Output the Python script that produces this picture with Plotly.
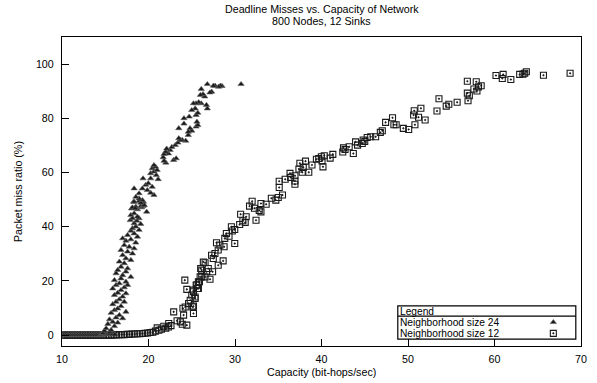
import plotly.graph_objects as go

# ---------------- data ----------------
# Neighborhood size 24 (triangles)
cap24 = [10.0, 10.2, 10.4, 10.6, 10.8, 11.0, 11.2, 11.4, 11.6, 11.8, 12.0, 12.2, 12.4,
         12.6, 12.8, 13.0, 13.2, 13.4, 13.6, 13.8, 14.0, 14.2, 14.4, 14.5, 14.6, 14.8,
         15.0, 15.2, 15.5, 15.8, 16.1,
         14.72, 15.49, 14.91, 15.68, 15.1, 16.06, 15.3, 16.44, 15.87, 15.49, 17.01, 16.25,
         16.63, 15.68, 17.39, 16.06, 16.44, 16.82, 15.87, 17.2, 16.25, 16.63, 17.01, 16.06,
         17.39, 16.44, 16.82, 15.87, 17.2, 17.58, 16.25, 16.63, 17.39, 16.06, 16.82, 17.96,
         17.01, 16.25, 17.39, 16.44, 17.58, 16.82, 17.2, 16.63, 17.96, 17.39, 17.01, 18.15,
         17.58, 16.82, 18.34, 17.77, 17.2, 18.53, 17.39, 17.96, 17.01, 18.72, 17.58, 18.34,
         18.91, 17.96, 18.15, 18.53, 19.1, 18.34, 18.65, 17.89, 18.91, 18.15, 18.72, 17.96,
         18.34, 19.79, 18.72, 18.04, 18.53, 19.1, 19.49, 19.41, 18.91, 18.27,
         18.15, 18.46, 19.22, 19.37, 19.49, 19.1, 18.34, 19.29, 18.91, 18.54, 18.91, 20.63,
         20.25, 19.86, 18.34, 19.29, 20.43, 19.68, 19.98, 21.12, 20.25, 19.37, 20.9, 20.25,
         20.63, 21.0, 20.43, 20.82, 20.63, 22.0, 21.8, 21.7, 22.9, 23.2, 22.3, 21.8, 22.0,
         22.5, 22.1, 22.7, 23.1, 23.4, 24.3, 23.9, 23.7, 23.5, 24.6, 25.0, 24.6, 24.8, 23.5,
         25.5, 25.7, 25.6, 24.1, 24.7, 24.1, 25.5, 25.7, 25.4, 25.0, 26.8, 26.7, 26.1, 25.8,
         25.5, 25.2, 27.3, 27.1, 26.5, 26.3, 26.0, 26.1, 28.5, 28.3, 28.1, 27.7, 27.5, 26.8,
         30.7]
miss24 = [0, 0, 0, 0, 0, 0, 0, 0, 0, 0, 0, 0, 0,
          0, 0, 0, 0, 0, 0, 0, 0, 0, 0, 0, 0, 0.2,
          0.4, 0.3, 0.5, 0.3, 0.2,
          0.8, 1.2, 1.6, 1.9, 2.5, 3.3, 4.1, 4.6, 4.9, 5.8, 6.2, 6.5,
          7.4, 8.2, 8.6, 9.2, 9.8, 10.7, 11.4, 12.3, 12.3, 13.2, 14.2, 14.8,
          15.4, 15.6, 16.6, 17.2, 17.6, 18.5, 18.5, 19.1, 19.7, 20.3, 20.9, 21.5,
          22.1, 22.8, 23.4, 24.0, 24.6, 25.2, 26.5, 27.1, 27.7, 28.3, 29.5, 30.1,
          30.8, 31.4, 32.0, 32.6, 33.2, 34.1, 34.8, 35.3, 35.7, 36.3, 36.9, 37.5,
          38.8, 38.5, 39.4, 40.0, 41.0, 41.2, 42.2, 42.4, 43.1, 43.1, 43.7, 44.3,
          44.9, 45.5, 46.4, 46.7, 47.4, 47.6, 48.0, 49.2, 49.45, 49.2,
          47.1, 46.8, 47.1, 47.6, 48.0, 48.8, 49.2, 49.8, 50.4, 51.0, 52.3, 51.7,
          52.5, 53.5, 54.1, 54.1, 54.7, 55.4, 56.0, 57.5, 57.8, 57.8, 59.0, 59.7,
          60.3, 60.9, 61.5, 62.1, 62.7, 63.6, 64.3, 65.6, 64.6, 65.2, 67.0, 66.8, 67.7,
          68.3, 68.8, 69.4, 70.1, 71.0, 71.7, 72.0, 72.0, 72.6, 73.8, 75.4, 75.0, 76.3, 76.3,
          76.9, 77.5, 78.7, 78.0, 80.6, 80.0, 81.2, 82.0, 83.6, 83.0, 83.6, 84.9, 85.5, 85.9,
          85.5, 85.5, 89.8, 89.5, 88.0, 88.9, 88.6, 90.8, 91.9, 92.0, 91.6, 92.0, 92.0, 92.6,
          92.6]

# Neighborhood size 12 (squares)
cap12 = [10.0, 10.3, 10.6, 10.9, 11.2, 11.5, 11.8, 12.1, 12.4, 12.7, 13.0, 13.3, 13.6,
         13.9, 14.2, 14.5, 14.8, 15.1, 15.4, 15.7, 16.0, 16.3, 16.6, 16.9, 17.2, 17.5,
         17.8, 18.1, 18.4, 18.7, 19.0, 19.3, 19.6, 19.9, 20.2, 20.5, 20.8, 21.2, 21.5,
         22.0, 22.3, 22.6,
         21.0, 21.77, 22.34, 23.68, 23.3, 24.06, 22.91, 23.98, 24.25, 25.12, 24.63, 24.82,
         25.39, 25.0, 25.2, 24.43, 25.77, 25.58, 25.89, 26.15, 26.03, 26.34, 24.43, 23.9,
         24.2,
         25.2, 25.2, 25.39, 25.2, 25.66, 25.51, 25.77, 25.97, 26.54, 27.11, 26.72, 27.41,
         26.15, 26.91, 26.54, 28.06, 28.63, 27.49, 27.29, 27.68, 28.06, 28.74, 28.25, 27.86,
         29.97, 28.82, 29.31, 29.0, 29.69, 29.97, 29.58, 30.54, 31.18, 30.91, 31.29, 30.65,
         32.43, 33.0, 32.25, 31.68, 33.0, 31.98, 34.72, 33.6, 34.2, 32.8,
         35.0, 35.49, 35.11, 35.11, 36.93, 36.93, 36.43, 36.93, 36.36, 37.77, 38.53, 37.39,
         37.89, 37.5, 38.15, 40.17, 40.06, 39.41, 39.68, 39.98, 40.32, 41.31, 42.46, 42.72,
         42.54, 43.68, 43.94, 44.17, 44.71, 44.82, 45.28, 45.69, 46.26, 46.8, 47.03, 47.41,
         48.21, 48.37, 35.8, 38.9, 41.0, 43.2, 45.0,
         48.63, 49.46, 50.08, 50.8, 51.98, 51.22, 50.65, 50.72, 51.49, 53.35, 53.58, 54.42,
         54.72, 55.68, 56.94, 56.86, 57.09, 56.86, 57.89, 57.62, 57.97, 58.15, 58.46, 60.17,
         60.9, 61.0, 61.89, 62.91, 63.29, 63.49, 63.68, 65.66, 68.74]
miss12 = [0, 0, 0, 0, 0, 0, 0, 0, 0, 0, 0, 0, 0,
          0, 0, 0, 0, 0, 0, 0, 0.1, 0.1, 0.2, 0.2, 0.2, 0.3,
          0.3, 0.4, 0.4, 0.5, 0.5, 0.6, 0.7, 0.8, 1.0, 1.1, 1.5, 1.8, 2.2,
          2.6, 3.0, 3.5,
          2.7, 3.3, 4.3, 4.9, 5.3, 7.4, 8.6, 9.9, 10.4, 10.4, 11.7, 12.9,
          14.1, 14.8, 16.6, 16.9, 17.2, 18.5, 19.7, 21.5, 24.6, 27.0, 3.7, 4.0,
          20.3,
          8.0, 10.7, 13.5, 16.0, 17.2, 18.5, 19.7, 21.5, 21.5, 20.6, 23.4, 23.4,
          24.0, 24.6, 26.7, 25.8, 27.4, 28.3, 29.5, 30.1, 31.4, 32.6, 33.2, 34.1,
          33.8, 35.7, 36.5, 37.5, 38.4, 39.0, 40.0, 40.8, 41.6, 42.2, 43.7, 44.6,
          42.4, 45.5, 46.8, 47.6, 48.6, 49.4, 49.8, 48.3, 50.5, 46.0,
          50.8, 51.7, 54.5, 56.8, 55.7, 56.9, 58.2, 58.8, 59.7, 60.1, 60.1, 61.3,
          61.9, 63.4, 64.2, 62.1, 64.3, 64.9, 65.2, 65.8, 66.2, 66.7, 67.6, 68.5,
          69.1, 67.0, 71.3, 70.1, 70.7, 72.0, 72.9, 73.2, 73.2, 74.8, 75.4, 78.5,
          80.2, 77.6, 57.5, 62.8, 65.3, 69.5, 71.5,
          77.6, 76.3, 75.9, 77.6, 79.4, 80.4, 81.2, 82.8, 83.7, 82.7, 87.2, 84.5,
          85.2, 85.9, 86.5, 89.3, 88.3, 93.7, 93.5, 90.8, 90.1, 91.6, 92.0, 95.8,
          94.7, 96.2, 94.3, 96.2, 96.3, 96.6, 97.2, 95.9, 96.6]

x_ticks = [10, 20, 30, 40, 50, 60, 70]
y_ticks = [0, 20, 40, 60, 80, 100]
series_names = ["Neighborhood size 24", "Neighborhood size 12"]
title_lines = ["Deadline Misses vs. Capacity of Network", "800 Nodes, 12 Sinks"]

FONT = "Liberation Sans, Arial, Helvetica, sans-serif"
FS = 10.7
LFS = 10.2

tri_marker = dict(symbol="triangle-up", size=5.5, color="#1a1a1a",
                  line=dict(width=0.6, color="#666666"))
sq_marker = dict(symbol="square-open-dot", size=6, color="#1a1a1a",
                 line=dict(width=1.1))

fig = go.Figure()
fig.add_trace(go.Scatter(x=cap12, y=miss12, mode="markers", marker=sq_marker,
                         name=series_names[1], showlegend=False))
fig.add_trace(go.Scatter(x=cap24, y=miss24, mode="markers", marker=tri_marker,
                         name=series_names[0], showlegend=False))

# legend box geometry (fractions of the plot area)
LX0, LX1 = 0.647, 0.990
LY0, LY1 = 0.022, 0.130
LSEP = 0.097
ROW_Y = [0.113, 0.077, 0.041]
SYM_X = 0.9467

# legend symbols on an invisible overlay axis (0..1 box coordinates)
fig.add_trace(go.Scatter(x=[SYM_X], y=[ROW_Y[1]], mode="markers", marker=tri_marker,
                         xaxis="x2", yaxis="y2", showlegend=False, hoverinfo="skip"))
fig.add_trace(go.Scatter(x=[SYM_X], y=[ROW_Y[2]], mode="markers", marker=sq_marker,
                         xaxis="x2", yaxis="y2", showlegend=False, hoverinfo="skip"))

axis_common = dict(showgrid=False, zeroline=False, showline=True, linecolor="black",
                   linewidth=1.2, mirror=True, ticks="inside", ticklen=7, tickwidth=1,
                   tickcolor="black", tickfont=dict(family=FONT, size=FS, color="black"))

fig.update_layout(
    width=597, height=383,
    margin=dict(l=62, r=10, t=37, b=37),
    paper_bgcolor="white", plot_bgcolor="white",
    font=dict(family=FONT, size=FS, color="black"),
    xaxis=dict(range=[10, 70], tickvals=x_ticks, ticklabelstandoff=3, **axis_common),
    yaxis=dict(range=[-4, 110], tickvals=y_ticks, ticklabelstandoff=5, **axis_common),
    xaxis2=dict(range=[0, 1], overlaying="x", visible=False, fixedrange=True),
    yaxis2=dict(range=[0, 1], overlaying="y", visible=False, fixedrange=True),
    showlegend=False,
)

annotations = [
    dict(text=title_lines[0], x=0.5, y=1.0896, xref="paper", yref="paper",
         showarrow=False, xanchor="center", yanchor="middle"),
    dict(text=title_lines[1], x=0.5, y=1.0527, xref="paper", yref="paper",
         showarrow=False, xanchor="center", yanchor="middle"),
    dict(text="Capacity (bit-hops/sec)", x=0.5, y=-0.0841, xref="paper", yref="paper",
         showarrow=False, xanchor="center", yanchor="middle"),
    dict(text="Packet miss ratio (%)", x=-0.0857, y=0.5, xref="paper", yref="paper",
         showarrow=False, xanchor="center", yanchor="middle", textangle=-90),
    dict(text="Legend", x=0.650, y=ROW_Y[0], xref="paper", yref="paper",
         showarrow=False, xanchor="left", yanchor="middle", font=dict(size=LFS),
         borderpad=0),
    dict(text=series_names[0], x=0.650, y=ROW_Y[1], xref="paper", yref="paper",
         showarrow=False, xanchor="left", yanchor="middle", font=dict(size=LFS),
         borderpad=0),
    dict(text=series_names[1], x=0.650, y=ROW_Y[2], xref="paper", yref="paper",
         showarrow=False, xanchor="left", yanchor="middle", font=dict(size=LFS),
         borderpad=0),
]
fig.update_layout(annotations=annotations)

fig.update_layout(shapes=[
    dict(type="rect", xref="paper", yref="paper", x0=LX0, x1=LX1, y0=LY0, y1=LY1,
         line=dict(color="black", width=1.2), fillcolor="white", layer="below"),
    dict(type="line", xref="paper", yref="paper", x0=LX0, x1=LX1, y0=LSEP, y1=LSEP,
         line=dict(color="black", width=1.2)),
])

fig.write_html("out.html")
